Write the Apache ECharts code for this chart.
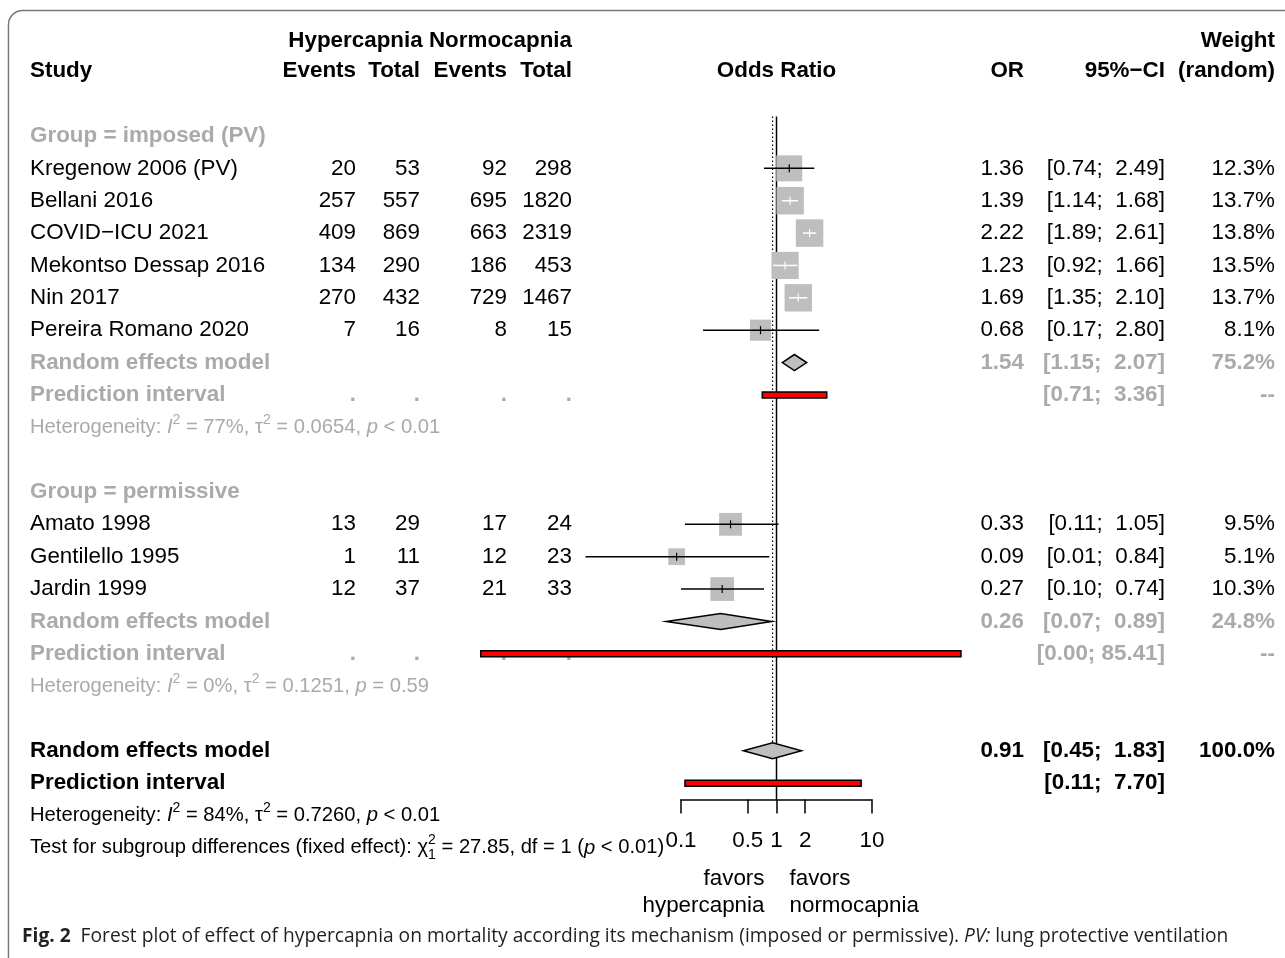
<!DOCTYPE html>
<html>
<head>
<meta charset="utf-8">
<title>Forest plot – hypercapnia and mortality</title>
<script src="https://cdn.jsdelivr.net/npm/echarts@6/dist/echarts.min.js"></script>
<style>
  html, body { margin: 0; padding: 0; background: #ffffff; }
  #chart { width: 1285px; height: 958px; }
</style>
</head>
<body>
<div id="chart"></div>
<script>
// ---------------- data ----------------
const groupNames   = ['Group = imposed (PV)', 'Group = permissive'];
const studyNames   = ['Kregenow 2006 (PV)', 'Bellani 2016', 'COVID\u2212ICU 2021', 'Mekontso Dessap 2016',
                      'Nin 2017', 'Pereira Romano 2020', 'Amato 1998', 'Gentilello 1995', 'Jardin 1999'];
const studyGroup   = [0, 0, 0, 0, 0, 0, 1, 1, 1];
const hyperEvents  = [20, 257, 409, 134, 270, 7, 13, 1, 12];
const hyperTotal   = [53, 557, 869, 290, 432, 16, 29, 11, 37];
const normoEvents  = [92, 695, 663, 186, 729, 8, 17, 12, 21];
const normoTotal   = [298, 1820, 2319, 453, 1467, 15, 24, 23, 33];
const studyOR      = [1.36, 1.39, 2.22, 1.23, 1.69, 0.68, 0.33, 0.09, 0.27];
const studyLower   = [0.74, 1.14, 1.89, 0.92, 1.35, 0.17, 0.11, 0.01, 0.10];
const studyUpper   = [2.49, 1.68, 2.61, 1.66, 2.10, 2.80, 1.05, 0.84, 0.74];
const studyWeight  = [12.3, 13.7, 13.8, 13.5, 13.7, 8.1, 9.5, 5.1, 10.3];

// pooled random-effects results: imposed, permissive, overall
const pooledOR     = [1.54, 0.26, 0.91];
const pooledLower  = [1.15, 0.07, 0.45];
const pooledUpper  = [2.07, 0.89, 1.83];
const pooledWeight = [75.2, 24.8, 100.0];
// prediction intervals (the permissive lower bound prints as 0.00)
const predLower    = [0.71, 0.0008, 0.11];
const predUpper    = [3.36, 85.41, 7.70];
// heterogeneity statistics
const hetI2        = ['77%', '0%', '84%'];
const hetTau2      = ['0.0654', '0.1251', '0.7260'];
const hetP         = ['< 0.01', '= 0.59', '< 0.01'];
const testChi2     = '27.85';
const testDf       = '1';
const testP        = '< 0.01';
// odds-ratio axis
const axisTickValues = [0.1, 0.5, 1, 2, 10];
const axisTickLabels = ['0.1', '0.5', '1', '2', '10'];

// ---------------- layout & style ----------------
const FONT = '"Liberation Sans", Arial, Helvetica, sans-serif';
const CAPTION_FONT = '"Open Sans", "Noto Sans", sans-serif';
const FS = 22.4, HET_FS = 20.2, CAPTION_FS = 19.2;
const GRAY = '#aaaaaa';
const BOX = '#bebebe';
const ROW_H = 32.36, FIRST_ROW_Y = 136;
const Y_MIN = -0.6, Y_MAX = 20.5;
const SQUARE_SCALE = 7.4;          // square side per sqrt(weight %)
const DIAMOND_HALF = 8;            // px
const PRED_HALF = 3;               // px
const COL = { study: 30, ev1: 356, tot1: 420, ev2: 507, tot2: 572, or: 1024, ci: 1165, w: 1275 };

// ---------------- row structure ----------------
const rows = [];
let r = 0;
groupNames.forEach((g, gi) => {
  rows.push({ kind: 'group', row: r++, text: g });
  studyNames.forEach((s, i) => { if (studyGroup[i] === gi) rows.push({ kind: 'study', row: r++, i }); });
  rows.push({ kind: 'pooled', row: r++, p: gi });
  rows.push({ kind: 'pred', row: r++, p: gi });
  rows.push({ kind: 'het', row: r++, p: gi });
  r++;  // blank line
});
rows.push({ kind: 'pooled', row: r++, p: 2 });
rows.push({ kind: 'pred', row: r++, p: 2 });
rows.push({ kind: 'het', row: r++, p: 2 });
rows.push({ kind: 'test', row: r++ });
const rowOf = kind => rows.filter(x => x.kind === kind);

const studyData  = rowOf('study').map(x => [studyOR[x.i], studyLower[x.i], studyUpper[x.i], studyWeight[x.i], x.row]);
const pooledData = rowOf('pooled').map(x => [pooledOR[x.p], pooledLower[x.p], pooledUpper[x.p], x.row]);
const predData   = rowOf('pred').map(x => [predLower[x.p], predUpper[x.p], x.row]);
const overallRow = rowOf('pooled')[2].row;

// ---------------- chart ----------------
const chart = echarts.init(document.getElementById('chart'), null, { renderer: 'canvas' });
const gridTop = FIRST_ROW_Y + Y_MIN * ROW_H;
const gridHeight = (Y_MAX - Y_MIN) * ROW_H;

chart.setOption({
  animation: false,
  backgroundColor: '#ffffff',
  grid: { left: 681, right: 1285 - 872, top: gridTop, height: gridHeight, containLabel: false },
  xAxis: {
    type: 'log', logBase: 10, min: 0.1, max: 10,
    axisLine: { show: true, onZero: false, lineStyle: { color: '#000', width: 1.5 } },
    axisTick: { show: true, inside: false, length: 14, customValues: axisTickValues, lineStyle: { color: '#000', width: 1.5 } },
    minorTick: { show: false },
    axisLabel: {
      show: true, customValues: axisTickValues, margin: 30,
      color: '#000', fontFamily: FONT, fontSize: FS,
      formatter: v => { const k = axisTickValues.findIndex(t => Math.abs(t - v) < 1e-9); return k >= 0 ? axisTickLabels[k] : ''; }
    },
    splitLine: { show: false }
  },
  yAxis: { type: 'value', inverse: true, min: Y_MIN, max: Y_MAX, show: false, splitLine: { show: false } },
  series: [
    { // line of no effect
      type: 'line', data: [[1, Y_MIN], [1, Y_MAX]], symbol: 'none', silent: true,
      lineStyle: { color: '#000', width: 1.5 }, z: 1
    },
    { // overall random-effects estimate, dotted, down to the overall diamond
      type: 'line', data: [[pooledOR[2], Y_MIN], [pooledOR[2], overallRow - DIAMOND_HALF / ROW_H]], symbol: 'none', silent: true,
      lineStyle: { color: '#000', width: 1.2, type: [1.5, 2.5] }, z: 1
    },
    { // individual studies: box sized by weight and confidence interval
      type: 'custom', clip: false, silent: true, z: 3,
      encode: { x: [0, 1, 2], y: 4 },
      data: studyData,
      renderItem: (params, api) => {
        const row = api.value(4);
        const pE = api.coord([api.value(0), row]);
        const pL = api.coord([api.value(1), row]);
        const pH = api.coord([api.value(2), row]);
        const side = SQUARE_SCALE * Math.sqrt(api.value(3));
        const inside = pL[0] >= pE[0] - side / 2 && pH[0] <= pE[0] + side / 2;
        const lc = inside ? '#ffffff' : '#000000';
        return {
          type: 'group',
          children: [
            { type: 'rect', shape: { x: pE[0] - side / 2, y: pE[1] - side / 2, width: side, height: side }, style: { fill: BOX } },
            { type: 'line', shape: { x1: pL[0], y1: pE[1], x2: pH[0], y2: pE[1] }, style: { stroke: lc, lineWidth: 1.5 } },
            { type: 'line', shape: { x1: pE[0], y1: pE[1] - 4, x2: pE[0], y2: pE[1] + 4 }, style: { stroke: lc, lineWidth: 1.2 } }
          ]
        };
      }
    },
    { // pooled estimates as diamonds
      type: 'custom', clip: false, silent: true, z: 3,
      encode: { x: [0, 1, 2], y: 3 },
      data: pooledData,
      renderItem: (params, api) => {
        const row = api.value(3);
        const pE = api.coord([api.value(0), row]);
        const pL = api.coord([api.value(1), row]);
        const pH = api.coord([api.value(2), row]);
        return {
          type: 'polygon',
          shape: { points: [[pL[0], pE[1]], [pE[0], pE[1] - DIAMOND_HALF], [pH[0], pE[1]], [pE[0], pE[1] + DIAMOND_HALF]] },
          style: { fill: BOX, stroke: '#000', lineWidth: 1.5 }
        };
      }
    },
    { // prediction intervals as red bars
      type: 'custom', clip: false, silent: true, z: 3,
      encode: { x: [0, 1], y: 2 },
      data: predData,
      renderItem: (params, api) => {
        const row = api.value(2);
        const pL = api.coord([api.value(0), row]);
        const pH = api.coord([api.value(1), row]);
        return {
          type: 'rect',
          shape: { x: pL[0], y: pL[1] - PRED_HALF, width: pH[0] - pL[0], height: 2 * PRED_HALF },
          style: { fill: '#ff0000', stroke: '#000', lineWidth: 1.5 }
        };
      }
    }
  ]
});

// ---------------- text table ----------------
const measureCtx = document.createElement('canvas').getContext('2d');
function fontStr(o) {
  return (o.italic ? 'italic ' : '') + (o.bold ? 'bold ' : '') + (o.size || FS) + 'px ' + (o.family || FONT);
}
function textW(s, o) { measureCtx.font = fontStr(o); return measureCtx.measureText(s).width; }
function txt(x, y, s, o) {
  o = o || {};
  const a = o.align || 'left';
  return {
    type: 'text', x: x, y: y, silent: true, z: o.z || 10,
    style: { text: s, font: fontStr(o), fill: o.color || '#000', textAlign: a, align: a, textVerticalAlign: 'middle', verticalAlign: 'middle' }
  };
}
// run of text pieces laid out left to right; a piece with stack:true does not advance
function run(x0, y, parts, base) {
  let x = x0;
  const out = [];
  parts.forEach(p => {
    const o = Object.assign({}, base, p);
    out.push(txt(x, y + (p.dy || 0), p.t, o));
    if (!p.stack) x += textW(p.t, o);
  });
  return out;
}

const yPix = row => chart.convertToPixel({ yAxisIndex: 0 }, row);
const xPix = v => chart.convertToPixel({ xAxisIndex: 0 }, v);
const fmt2 = v => v.toFixed(2);
const ciText = (lo, hi) => {
  const h = fmt2(hi);
  return '[' + fmt2(lo) + '; ' + ' '.repeat(Math.max(0, 5 - h.length)) + h + ']';
};

const g = [];
// frame
g.push({ type: 'rect', silent: true, z: 0, shape: { x: 8.5, y: 10.5, width: 1400, height: 1100, r: 14 },
         style: { fill: 'none', stroke: '#7a7a7a', lineWidth: 1.5 } });

// headers
const hY1 = yPix(-2.95), hY2 = yPix(-2);
const H = { bold: true };
const R = o => Object.assign({ align: 'right' }, o || {});
g.push(txt(COL.tot2, hY1, 'Hypercapnia Normocapnia', R(H)));
g.push(txt(COL.w, hY1, 'Weight', R(H)));
g.push(txt(COL.study, hY2, 'Study', H));
g.push(txt(COL.ev1, hY2, 'Events', R(H)));
g.push(txt(COL.tot1, hY2, 'Total', R(H)));
g.push(txt(COL.ev2, hY2, 'Events', R(H)));
g.push(txt(COL.tot2, hY2, 'Total', R(H)));
g.push(txt(xPix(1), hY2, 'Odds Ratio', Object.assign({ align: 'center' }, H)));
g.push(txt(COL.or, hY2, 'OR', R(H)));
g.push(txt(COL.ci, hY2, '95%\u2212CI', R(H)));
g.push(txt(COL.w, hY2, '(random)', R(H)));

rows.forEach(rw => {
  const y = yPix(rw.row);
  if (rw.kind === 'group') {
    g.push(txt(COL.study, y, rw.text, { bold: true, color: GRAY }));
  } else if (rw.kind === 'study') {
    const i = rw.i;
    g.push(txt(COL.study, y, studyNames[i]));
    g.push(txt(COL.ev1, y, String(hyperEvents[i]), R()));
    g.push(txt(COL.tot1, y, String(hyperTotal[i]), R()));
    g.push(txt(COL.ev2, y, String(normoEvents[i]), R()));
    g.push(txt(COL.tot2, y, String(normoTotal[i]), R()));
    g.push(txt(COL.or, y, fmt2(studyOR[i]), R()));
    g.push(txt(COL.ci, y, ciText(studyLower[i], studyUpper[i]), R()));
    g.push(txt(COL.w, y, studyWeight[i].toFixed(1) + '%', R()));
  } else if (rw.kind === 'pooled') {
    const p = rw.p, o = { bold: true, color: p < 2 ? GRAY : '#000' };
    g.push(txt(COL.study, y, 'Random effects model', o));
    g.push(txt(COL.or, y, fmt2(pooledOR[p]), R(o)));
    g.push(txt(COL.ci, y, ciText(pooledLower[p], pooledUpper[p]), R(o)));
    g.push(txt(COL.w, y, pooledWeight[p].toFixed(1) + '%', R(o)));
  } else if (rw.kind === 'pred') {
    const p = rw.p, o = { bold: true, color: p < 2 ? GRAY : '#000' };
    g.push(txt(COL.study, y, 'Prediction interval', o));
    g.push(txt(COL.ci, y, ciText(predLower[p], predUpper[p]), R(o)));
    if (p < 2) {
      [COL.ev1, COL.tot1, COL.ev2, COL.tot2].forEach(cx => g.push(txt(cx, y, '.', R(Object.assign({ z: 1 }, o)))));
      g.push(txt(COL.w, y, '--', R(o)));
    }
  } else if (rw.kind === 'het') {
    const p = rw.p;
    const base = { size: HET_FS, color: p < 2 ? GRAY : '#000' };
    const sup = { size: 14, dy: -7 };
    g.push.apply(g, run(COL.study, y, [
      { t: 'Heterogeneity: ' }, { t: 'I', italic: true }, Object.assign({ t: '2' }, sup),
      { t: ' = ' + hetI2[p] + ', \u03c4' }, Object.assign({ t: '2' }, sup),
      { t: ' = ' + hetTau2[p] + ', ' }, { t: 'p', italic: true }, { t: ' ' + hetP[p] }
    ], base));
  } else if (rw.kind === 'test') {
    const base = { size: HET_FS, color: '#000' };
    g.push.apply(g, run(COL.study, y, [
      { t: 'Test for subgroup differences (fixed effect): \u03c7' },
      { t: '2', size: 14, dy: -8, stack: true }, { t: testDf, size: 14, dy: 7 },
      { t: ' = ' + testChi2 + ', df = ' + testDf + ' (' }, { t: 'p', italic: true }, { t: ' ' + testP + ')' }
    ], base));
  }
});

// favour labels under the axis
const ref = xPix(1);
g.push(txt(ref - 12, 879, 'favors', R()));
g.push(txt(ref - 12, 906, 'hypercapnia', R()));
g.push(txt(ref + 13, 879, 'favors'));
g.push(txt(ref + 13, 906, 'normocapnia'));

// caption
g.push.apply(g, run(22, 937, [
  { t: 'Fig. 2', bold: true },
  { t: '  Forest plot of effect of hypercapnia on mortality according its mechanism (imposed or permissive). ' },
  { t: 'PV:', italic: true },
  { t: ' lung protective ventilation' }
], { family: CAPTION_FONT, size: CAPTION_FS, color: '#231f20' }));

chart.setOption({ graphic: { elements: g } });
</script>
</body>
</html>
